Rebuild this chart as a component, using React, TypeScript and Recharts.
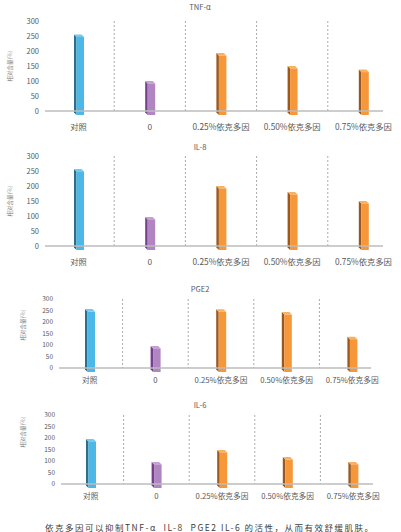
import { Bar, BarChart, CartesianGrid, Cell, XAxis, YAxis } from 'recharts'

const categories = ['对照', '0', '0.25%依克多因', '0.50%依克多因', '0.75%依克多因']
const tnfValues = [255, 100, 193, 150, 138]
const il8Values = [257, 97, 200, 180, 150]
const pge2Values = [256, 96, 255, 243, 136]
const il6Values = [196, 96, 148, 117, 96]
const yTicks = [0, 50, 100, 150, 200, 250, 300]

const FONT = '"Noto Sans CJK SC", "Noto Sans", sans-serif'

// front / side / top colours of the fake 3D bars
const shades: Record<string, [string, string]> = {
  '#4cb8e8': ['#2c6e8c', '#74c9ef'],
  '#b085c2': ['#74408e', '#c6a0d4'],
  '#f6973a': ['#9a581e', '#f9b060'],
}
const barColors = ['#4cb8e8', '#b085c2', '#f6973a', '#f6973a', '#f6973a']

type Panel = {
  title: string
  values: number[]
  top: number
  height: number
  plotTop: number
  plotBottom: number
  plotLeft: number
  plotRight: number
  padL: number
  padR: number
  tickFont: number
  catFont: number
  catGap: number
  labelX: number
  labelY: number
  titleY: number
}

const panels: Panel[] = [
  { title: 'TNF-α', values: tnfValues, top: 0, height: 135, plotTop: 21, plotBottom: 111, plotLeft: 45, plotRight: 383, padL: -2, padR: -16, tickFont: 7.5, catFont: 8.3, catGap: 13, labelX: 10, labelY: 66, titleY: 7 },
  { title: 'IL-8', values: il8Values, top: 135, height: 135, plotTop: 156, plotBottom: 246, plotLeft: 45, plotRight: 383, padL: -2, padR: -16, tickFont: 7.5, catFont: 8.3, catGap: 13, labelX: 10, labelY: 201, titleY: 147 },
  { title: 'PGE2', values: pge2Values, top: 270, height: 120, plotTop: 299, plotBottom: 368, plotLeft: 59, plotRight: 371, padL: -2, padR: -14, tickFont: 6.5, catFont: 7.7, catGap: 10, labelX: 23, labelY: 325, titleY: 289 },
  { title: 'IL-6', values: il6Values, top: 392, height: 115, plotTop: 415, plotBottom: 484, plotLeft: 61, plotRight: 373, padL: -3, padR: -13, tickFont: 6.5, catFont: 7.7, catGap: 10, labelX: 23, labelY: 432, titleY: 405 },
]

function Bar3D(props: any) {
  const { x, y, width, height, fill } = props
  const [side, top] = shades[fill] ?? ['#666', '#aaa']
  const d = 2.5
  const bottom = y + height + 4
  return (
    <g>
      <polygon points={`${x},${y} ${x + d},${y + d} ${x + d},${bottom} ${x},${bottom - d}`} fill={side} />
      <polygon points={`${x},${y} ${x + width - d},${y} ${x + width},${y + d} ${x + d},${y + d}`} fill={top} />
      <rect x={x + d} y={y + d} width={width - d} height={bottom - y - d} fill={fill} />
    </g>
  )
}

function ChartPanel({ p }: { p: Panel }) {
  const rows = categories.map((c, i) => ({ name: c, value: p.values[i] }))
  const axisH = 20
  return (
    <div style={{ position: 'absolute', left: 0, top: p.top, width: 401, height: p.height }}>
      <BarChart
        width={401}
        height={p.height}
        data={rows}
        margin={{
          top: p.plotTop - p.top,
          right: 401 - p.plotRight,
          left: 0,
          bottom: p.height - (p.plotBottom - p.top) - axisH,
        }}
      >
        <CartesianGrid
          horizontal={false}
          stroke="#ababab"
          strokeDasharray="2 2"
          verticalCoordinatesGenerator={({ offset }: any) => {
            const band = (offset.width - p.padL - p.padR) / categories.length
            return [1, 2, 3, 4].map((i) => offset.left + p.padL + i * band)
          }}
        />
        <XAxis
          dataKey="name"
          height={axisH}
          padding={{ left: p.padL, right: p.padR }}
          tickLine={false}
          tickSize={0}
          tickMargin={p.catGap}
          axisLine={{ stroke: '#bcbcbc', strokeWidth: 1.5 }}
          tick={{ fill: '#595959', fontSize: p.catFont, fontFamily: FONT }}
          interval={0}
        />
        <YAxis
          domain={[0, 300]}
          ticks={yTicks}
          interval={0}
          width={p.plotLeft}
          axisLine={false}
          tickLine={false}
          tickSize={0}
          tickMargin={6}
          tick={{ fill: '#595959', fontSize: p.tickFont, fontFamily: FONT }}
        />
        <Bar dataKey="value" barSize={10} shape={Bar3D} isAnimationActive={false}>
          {rows.map((r, i) => (
            <Cell key={r.name} fill={barColors[i]} />
          ))}
        </Bar>
      </BarChart>
      <div
        style={{
          position: 'absolute',
          left: 0,
          width: 400,
          top: p.titleY - p.top - 6,
          lineHeight: '12px',
          textAlign: 'center',
          fontSize: 7.6,
          color: '#595959',
          fontFamily: FONT,
        }}
      >
        {p.title}
      </div>
      <div
        style={{
          position: 'absolute',
          left: p.labelX,
          top: p.labelY - p.top,
          transform: 'translate(-50%, -50%) rotate(-90deg)',
          whiteSpace: 'nowrap',
          fontSize: 5.5,
          color: '#7f7f7f',
          fontFamily: FONT,
        }}
      >
        相对含量(%)
      </div>
    </div>
  )
}

export default function App() {
  return (
    <div style={{ position: 'absolute', left: 0, top: 0, width: 401, height: 532, background: '#fff', overflow: 'hidden' }}>
      {panels.map((p) => (
        <ChartPanel key={p.title} p={p} />
      ))}
      <div
        style={{
          position: 'absolute',
          left: 45,
          top: 520,
          whiteSpace: 'nowrap',
          fontSize: 8.5,
          letterSpacing: 1.5,
          lineHeight: '14px',
          color: '#404040',
          fontFamily: FONT,
        }}
      >
        依克多因可以抑制TNF-α&nbsp;&nbsp;IL-8&nbsp;&nbsp;PGE2 IL-6 的活性，从而有效舒缓肌肤。
      </div>
    </div>
  )
}
